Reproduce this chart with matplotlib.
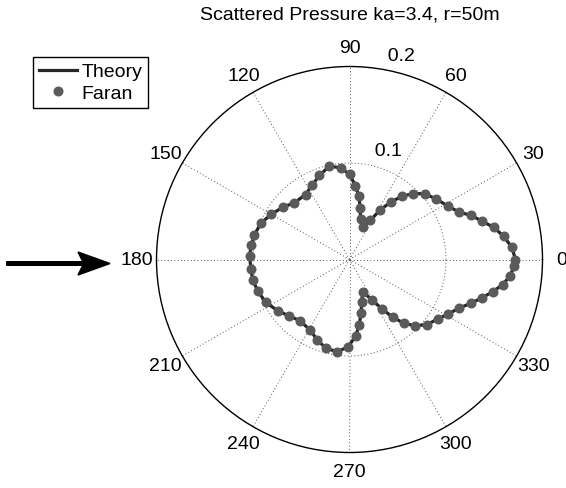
import numpy as np
import matplotlib
matplotlib.use("Agg")
import matplotlib.pyplot as plt
from matplotlib.patches import FancyArrow

plt.rcParams['font.family'] = ['Liberation Sans', 'DejaVu Sans']

# ---- data (angle in degrees, pressure magnitude) ----
angle_deg = [-174.5, -168.0, -161.2, -152.9, -144.5, -136.8, -129.0, -119.3,
             -111.8, -104.8, -97.5, -90.8, -85.3, -81.5, -77.9, -73.9, -67.7,
             -61.1, -56.5, -53.2, -49.5, -45.3, -40.2, -34.0, -28.9, -23.8,
             -19.9, -16.2, -12.7, -9.3, -5.8, -2.2,
             0.0, 4.3, 8.6, 12.6, 16.1, 19.9, 23.3, 28.5, 35.0, 41.2, 45.9,
             50.2, 54.1, 58.2, 62.0, 67.8, 74.6, 78.3, 81.6, 85.4, 90.0, 95.2,
             102.1, 109.6, 116.7, 124.1, 134.1, 141.9, 150.1, 157.4, 165.3,
             171.7, 178.1]
pressure = [0.1026, 0.1026, 0.1005, 0.0975, 0.0914, 0.0856, 0.0816, 0.0837,
            0.0898, 0.0952, 0.0964, 0.0904, 0.0793, 0.0683, 0.0570, 0.0455,
            0.0361, 0.0476, 0.0616, 0.0748, 0.0869, 0.0965, 0.1047, 0.1103,
            0.1169, 0.1244, 0.1336, 0.1427, 0.1521, 0.1609, 0.1672, 0.1709,
            0.1720, 0.1687, 0.1615, 0.1530, 0.1431, 0.1341, 0.1240, 0.1159,
            0.1096, 0.1033, 0.0952, 0.0854, 0.0738, 0.0609, 0.0458, 0.0366,
            0.0430, 0.0547, 0.0663, 0.0769, 0.0881, 0.0953, 0.0989, 0.0927,
            0.0861, 0.0813, 0.0819, 0.0879, 0.0936, 0.0991, 0.1018, 0.1029,
            0.1036]
theta_ticks = [0, 30, 60, 90, 120, 150, 180, 210, 240, 270, 300, 330]
r_ticks = [0.1, 0.2]
r_max = 0.2
title = "Scattered Pressure ka=3.4, r=50m"

W, H = 566, 489
fig = plt.figure(figsize=(W / 100, H / 100), dpi=100)

cx, cy, R = 349.5, 260.5, 193.0
ax = fig.add_axes([(cx - R) / W, (H - cy - R) / H, 2 * R / W, 2 * R / H],
                  projection='polar')
ax.set_ylim(0, r_max)
ax.set_xticks([])
ax.set_yticks([])
ax.grid(False)
ax.spines['polar'].set_linewidth(1.0)
ax.spines['polar'].set_color('black')

dot = dict(color='#555555', linewidth=0.7, linestyle=(0, (1, 2.4)), zorder=1)
# spokes
for t in theta_ticks:
    ax.plot([np.deg2rad(t), np.deg2rad(t)], [0, r_max], **dot)
# rings
ring_t = np.linspace(0, 2 * np.pi, 721)
for rt in r_ticks[:-1]:
    ax.plot(ring_t, np.full_like(ring_t, rt), **dot)

# angle labels
for t in theta_ticks:
    ax.text(np.deg2rad(t), 1.1 * r_max, str(t), ha='center', va='center',
            fontsize=14, clip_on=False)
# radial labels
for rt in r_ticks:
    ax.text(np.deg2rad(82), rt + 0.005, '  ' + f'{rt:g}', ha='left',
            va='bottom', fontsize=14, clip_on=False)

th = np.deg2rad(angle_deg)
th_closed = np.append(th, th[0])
r_closed = np.append(pressure, pressure[0])
l1, = ax.plot(th_closed, r_closed, color='#262626', linewidth=2.3,
              zorder=3, label='Theory')
l2, = ax.plot(th, pressure, linestyle='none', marker='o', markersize=6.2,
              markerfacecolor='#5a5a5a', markeredgecolor='#5a5a5a',
              zorder=4, label='Faran')

fig.text(cx / W, 1 - 20 / H, title, ha='center', va='baseline', fontsize=14)

leg = fig.legend(handles=[l1, l2], loc='upper left',
                 bbox_to_anchor=(33 / W, 1 - 58 / H), borderaxespad=0,
                 fontsize=14, handlelength=1.95, handletextpad=0.25,
                 borderpad=0.3, labelspacing=0.2, fancybox=False,
                 frameon=True, framealpha=1, edgecolor='black')
leg.get_frame().set_linewidth(1.0)

# arrow pointing at the 180 direction
y_ar = 1 - 264.5 / H
arr = FancyArrow(6.7 / W, y_ar, (110 - 6.7) / W, 0, width=3.6 / H,
                 head_width=23 / H, head_length=32 / W,
                 length_includes_head=True, overhang=0.15,
                 color='black', transform=fig.transFigure)
fig.add_artist(arr)

fig.savefig('out.png', dpi=100)
